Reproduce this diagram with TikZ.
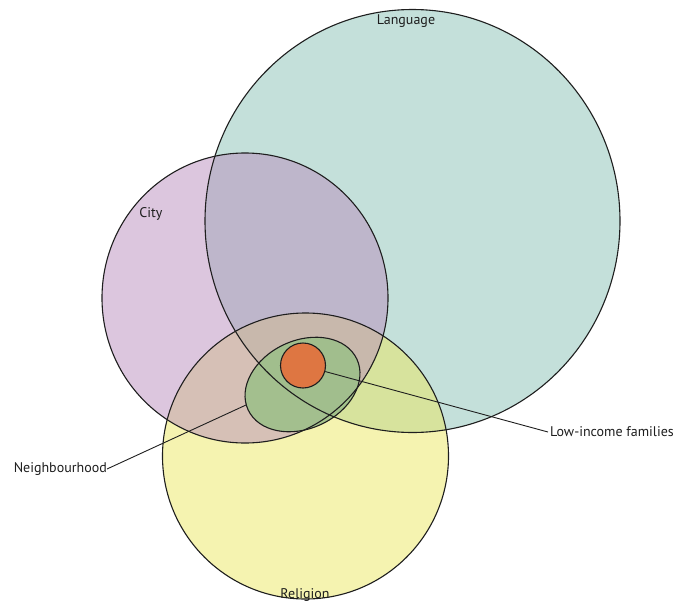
\documentclass[tikz,border=0pt]{standalone}
\usepackage{fontspec}
\setmainfont{PT Sans}
\usetikzlibrary{shapes.geometric}
\definecolor{cityc}{RGB}{185,141,189}
\definecolor{langc}{RGB}{137,193,181}
\definecolor{relc}{RGB}{235,231,97}
\definecolor{greenc}{RGB}{158,191,138}
\definecolor{orangec}{RGB}{222,118,66}
\definecolor{linec}{RGB}{30,30,30}
\begin{document}
\begin{tikzpicture}[x=1pt,y=-1pt,
  setfill/.style={fill=#1,fill opacity=0.5,draw=none},
  outline/.style={draw=linec,line width=1.1pt},
  lbl/.style={font=\fontsize{14}{16}\selectfont,text=linec,inner sep=0pt},
  conn/.style={draw=linec,line width=0.9pt}]
\useasboundingbox (0,0) rectangle (675,603);
% fills
\path[setfill=langc] (412.5,221) ellipse [x radius=207.5, y radius=211.5];
\path[setfill=relc] (305.5,456) ellipse [x radius=143, y radius=143];
\path[setfill=cityc] (245,298) ellipse [x radius=143, y radius=145];
\path[fill=greenc,fill opacity=0.9,rotate around={25:(302.5,384.5)}] (302.5,384.5) ellipse [x radius=60, y radius=44];
% outlines
\draw[outline] (412.5,221) ellipse [x radius=207.5, y radius=211.5];
\draw[outline] (305.5,456) ellipse [x radius=143, y radius=143];
\draw[outline] (245,298) ellipse [x radius=143, y radius=145];
\draw[outline,rotate around={25:(302.5,384.5)}] (302.5,384.5) ellipse [x radius=60, y radius=44];
\coordinate (nbend) at (246,405);
% labels
\node[lbl] (lang) at (406,21) {Language};
\node[lbl] (city) at (151,214) {City};
\node[lbl] (rel) at (305,595) {Religion};
\node[lbl,anchor=east] (nb) at (107,469) {Neighbourhood};
\node[lbl,anchor=west] (low) at (550,432) {Low-income families};
% orange
\node[circle,minimum size=45pt,inner sep=0pt,fill=orangec,draw=linec,line width=1.1pt] (orange) at (303,365.5) {};
% connectors
\draw[conn] (nb.east) -- (nbend);
\draw[conn] (orange) -- ([xshift=-2pt]low.west);
\end{tikzpicture}
\end{document}
